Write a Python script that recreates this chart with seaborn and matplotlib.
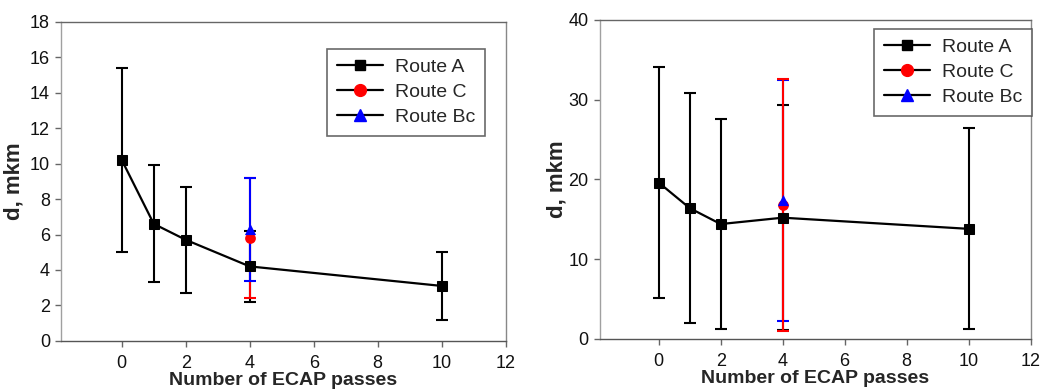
import matplotlib
matplotlib.use("Agg")
import matplotlib.pyplot as plt
from matplotlib.lines import Line2D
import seaborn as sns
import pandas as pd
import numpy as np

sns.set_style("white")
plt.rcParams['font.family'] = ['Liberation Sans', 'DejaVu Sans']

# ---- data ----
passes_A = [0, 1, 2, 4, 10]
left_A = [10.2, 6.6, 5.7, 4.2, 3.1]
left_A_err = [5.2, 3.3, 3.0, 2.0, 1.9]
left_C_x = [4]
left_C = [5.8]
left_C_err = [3.4]
left_Bc_x = [4]
left_Bc = [6.3]
left_Bc_err = [2.9]

right_A = [19.6, 16.4, 14.4, 15.2, 13.8]
right_A_err = [14.5, 14.4, 13.2, 14.1, 12.6]
right_C_x = [4]
right_C = [16.8]
right_C_err = [15.8]
right_Bc_x = [4]
right_Bc = [17.4]
right_Bc_err = [15.1]

xticks = [0, 2, 4, 6, 8, 10, 12]
left_yticks = [0, 2, 4, 6, 8, 10, 12, 14, 16, 18]
right_yticks = [0, 10, 20, 30, 40]
labels = ["Route A", "Route C", "Route Bc"]

fig = plt.figure(figsize=(10.56, 3.90), dpi=100)
ax1 = fig.add_axes([0.0578, 0.126, 0.421, 0.818])
ax2 = fig.add_axes([0.568, 0.131, 0.408, 0.818])


def panel(ax, A, Aerr, Cx, C, Cerr, Bx, B, Berr, ylim, yticks, legbox, c_on_top, ylpad):
    zc, zb = (3.5, 3) if c_on_top else (3, 3.5)
    ax.errorbar(passes_A, A, yerr=Aerr, fmt='none', ecolor='black', elinewidth=1.5,
                capsize=4, capthick=1.5, zorder=2)
    ax.errorbar(Cx, C, yerr=Cerr, fmt='none', ecolor='red', elinewidth=1.5,
                capsize=4, capthick=1.5, zorder=zc)
    ax.errorbar(Bx, B, yerr=Berr, fmt='none', ecolor='blue', elinewidth=1.5,
                capsize=4, capthick=1.5, zorder=zb)
    dfA = pd.DataFrame({"x": passes_A, "y": A})
    sns.lineplot(data=dfA, x="x", y="y", ax=ax, color='black', linewidth=1.6,
                 marker='s', markersize=7.5, markeredgecolor='black', zorder=4)
    sns.scatterplot(x=Cx, y=C, ax=ax, color='red', marker='o', s=60,
                    edgecolor='red', linewidth=0, zorder=5)
    sns.scatterplot(x=Bx, y=B, ax=ax, color='blue', marker='^', s=65,
                    edgecolor='blue', linewidth=0, zorder=6)
    ax.set_xlim(-1.9, 12)
    ax.set_ylim(*ylim)
    ax.set_xticks(xticks)
    ax.set_yticks(yticks)
    ax.tick_params(axis='both', which='both', direction='out', length=4, width=1,
                   color='#666666', labelcolor='#111111', labelsize=13,
                   bottom=True, left=True)
    ax.tick_params(axis='x', pad=6)
    ax.tick_params(axis='y', pad=4)
    spine_cols = {'left': '#a0a0a0', 'bottom': '#555555', 'top': '#666666', 'right': '#888888'}
    for k, s in ax.spines.items():
        s.set_visible(True)
        s.set_color(spine_cols[k])
        s.set_linewidth(1.0)
    ax.set_xlabel("Number of ECAP passes", fontsize=14, fontweight='bold', labelpad=0.5)
    ax.set_ylabel("d, mkm", fontsize=16, fontweight='bold', labelpad=ylpad)
    handles = [
        Line2D([], [], color='black', lw=1.6, marker='s', markersize=7,
               markerfacecolor='black', markeredgecolor='black'),
        Line2D([], [], color='black', lw=1.6, marker='o', markersize=8.5,
               markerfacecolor='red', markeredgecolor='red'),
        Line2D([], [], color='black', lw=1.6, marker='^', markersize=8,
               markerfacecolor='blue', markeredgecolor='blue'),
    ]
    leg = ax.legend(handles, labels, loc='upper left', bbox_to_anchor=legbox,
                    frameon=True, fancybox=False, fontsize=14, handlelength=2.4,
                    borderpad=0.5, labelspacing=0.38, handletextpad=0.6,
                    borderaxespad=0)
    leg.get_frame().set_edgecolor('#444444')
    leg.get_frame().set_linewidth(1.2)


panel(ax1, left_A, left_A_err, left_C_x, left_C, left_C_err, left_Bc_x, left_Bc,
      left_Bc_err, (0, 18), left_yticks, (0.598, 0.915), False, 4)
panel(ax2, right_A, right_A_err, right_C_x, right_C, right_C_err, right_Bc_x,
      right_Bc, right_Bc_err, (0, 40), right_yticks, (0.636, 0.972), True, 1)

fig.savefig("out.png", dpi=100)
